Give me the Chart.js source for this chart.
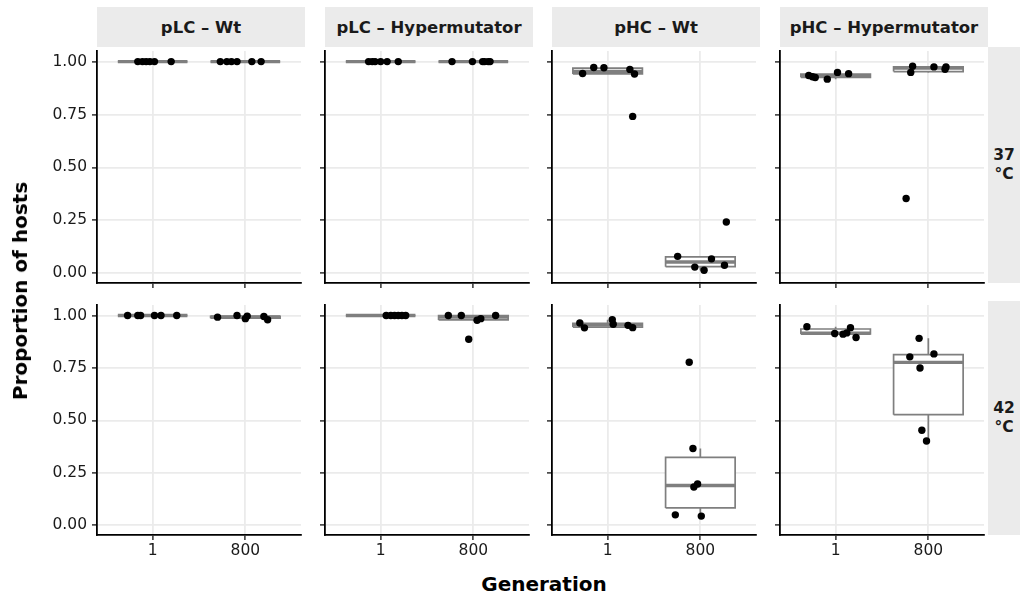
<!DOCTYPE html>
<html>
<head>
<meta charset="utf-8">
<script src="https://cdn.jsdelivr.net/npm/chart.js@4.4.1/dist/chart.umd.min.js"></script>
<style>
  html, body { margin: 0; padding: 0; background: #fff; }
  body { width: 1026px; height: 601px; position: relative; overflow: hidden;
         font-family: 'DejaVu Sans', 'Liberation Sans', Arial, sans-serif; color: #1a1a1a; }
  canvas { position: absolute; }
  .strip { position: absolute; background: #ebebeb; display: flex; align-items: center;
           justify-content: center; font-weight: bold; font-size: 16.5px; color: #1a1a1a; }
  .rstrip { text-align: center; line-height: 19px; font-size: 15.5px; }
  .title { position: absolute; font-weight: bold; font-size: 20px; color: #000; white-space: nowrap; }
</style>
</head>
<body>
<script>
/* facets */
var PANELS = ['pLC \u2013 Wt', 'pLC \u2013 Hypermutator', 'pHC \u2013 Wt', 'pHC \u2013 Hypermutator'];
var TEMPS = ['37', '42'];
var GENERATIONS = ['1', '800'];
var Y_TICKS = [0, 0.25, 0.5, 0.75, 1];

/* proportion of hosts, per panel: [generation 1, generation 800] */
var PROP_37 = [
  [[1, 1, 1, 1, 1, 1], [1, 1, 1, 1, 1, 1]],
  [[1, 1, 1, 1, 1, 1], [1, 1, 1, 1, 1, 1]],
  [[0.944, 0.972, 0.971, 0.963, 0.941, 0.741], [0.080, 0.029, 0.014, 0.068, 0.038, 0.242]],
  [[0.934, 0.928, 0.925, 0.917, 0.949, 0.943], [0.353, 0.949, 0.978, 0.975, 0.964, 0.975]]
];
var PROP_42 = [
  [[1, 1, 1, 1, 1, 1], [0.992, 1.0, 0.985, 0.997, 0.995, 0.980]],
  [[1, 1, 1, 1, 1, 1], [1.0, 1.0, 0.977, 0.985, 1.0, 0.887]],
  [[0.964, 0.941, 0.980, 0.958, 0.953, 0.942], [0.777, 0.366, 0.183, 0.197, 0.050, 0.044]],
  [[0.946, 0.914, 0.911, 0.917, 0.942, 0.895], [0.891, 0.803, 0.817, 0.750, 0.453, 0.402]]
];

/* horizontal jitter of each point (category units) */
var JITTER_37 = [
  [[-0.16, -0.11, -0.07, -0.03, 0.02, 0.20], [-0.27, -0.20, -0.15, -0.09, 0.07, 0.17]],
  [[-0.13, -0.09, -0.06, 0.00, 0.07, 0.19], [-0.23, -0.01, 0.10, 0.12, 0.16, 0.18]],
  [[-0.27, -0.15, -0.04, 0.24, 0.29, 0.27], [-0.245, -0.06, 0.04, 0.12, 0.26, 0.28]],
  [[-0.29, -0.25, -0.22, -0.09, 0.02, 0.14], [-0.24, -0.19, -0.17, 0.06, 0.18, 0.19]]
];
var JITTER_42 = [
  [[-0.27, -0.16, -0.13, 0.02, 0.09, 0.26], [-0.30, -0.09, 0.00, 0.02, 0.20, 0.24]],
  [[0.06, 0.11, 0.15, 0.19, 0.23, 0.27], [-0.27, -0.13, 0.04, 0.08, 0.24, -0.05]],
  [[-0.30, -0.25, 0.05, 0.06, 0.22, 0.27], [-0.12, -0.08, -0.07, -0.03, -0.27, 0.01]],
  [[-0.31, -0.01, 0.08, 0.12, 0.16, 0.22], [-0.10, -0.20, 0.06, -0.09, -0.07, -0.02]]
];

/* layout */
var PANEL_LEFT = [97, 325, 552, 780], PANEL_W = 208;
var ROW_TOP = [47, 301], ROW_H = [236, 234];
var BOX_HALF = 0.375;
var GREY = '#7f7f7f';

Chart.defaults.font.family = "'DejaVu Sans', 'Liberation Sans', Arial, sans-serif";
Chart.defaults.color = '#1a1a1a';

function quantile(sorted, p) {
  var h = (sorted.length - 1) * p, lo = Math.floor(h);
  var next = sorted[lo + 1] !== undefined ? sorted[lo + 1] : sorted[lo];
  return sorted[lo] + (h - lo) * (next - sorted[lo]);
}

function boxStats(vals) {
  var s = vals.slice().sort(function (a, b) { return a - b; });
  var q1 = quantile(s, 0.25), med = quantile(s, 0.5), q3 = quantile(s, 0.75);
  var iqr = q3 - q1;
  var lo = s.filter(function (v) { return v >= q1 - 1.5 * iqr; })[0];
  var hiArr = s.filter(function (v) { return v <= q3 + 1.5 * iqr; });
  return { q1: q1, med: med, q3: q3, lo: lo, hi: hiArr[hiArr.length - 1] };
}

function addText(cls, txt, css) {
  var d = document.createElement('div');
  d.className = cls; d.innerHTML = txt;
  Object.keys(css).forEach(function (k) { d.style[k] = css[k]; });
  document.body.appendChild(d);
  return d;
}

/* keep chart area fixed: no extra padding for overhanging labels */
function noPad(s) { s.paddingTop = 0; s.paddingBottom = 0; s.paddingLeft = 0; s.paddingRight = 0; }

function makePanel(row, col) {
  var props = (row === 0 ? PROP_37 : PROP_42)[col];
  var jit = (row === 0 ? JITTER_37 : JITTER_42)[col];
  var yw = col === 0 ? 97 : 10;
  var xh = row === 1 ? 34 : 10;

  var canvas = document.createElement('canvas');
  canvas.width = PANEL_W + yw; canvas.height = ROW_H[row] + xh;
  canvas.style.left = (PANEL_LEFT[col] - yw) + 'px';
  canvas.style.top = ROW_TOP[row] + 'px';
  document.body.appendChild(canvas);

  var pts = [];
  props.forEach(function (vals, g) {
    vals.forEach(function (v, i) { pts.push({ x: g + 1 + jit[g][i], y: v }); });
  });

  var medians = [], boxes = [], whiskers = [];
  props.forEach(function (vals, g) {
    var st = boxStats(vals), c = g + 1;
    medians.push({ type: 'line', data: [{ x: c - BOX_HALF, y: st.med }, { x: c + BOX_HALF, y: st.med }],
      borderColor: GREY, borderWidth: 3.4, pointRadius: 0, fill: false });
    boxes.push({ type: 'line', data: [
        { x: c - BOX_HALF, y: st.q1 }, { x: c + BOX_HALF, y: st.q1 }, { x: c + BOX_HALF, y: st.q3 },
        { x: c - BOX_HALF, y: st.q3 }, { x: c - BOX_HALF, y: st.q1 }],
      borderColor: GREY, borderWidth: 1.7, backgroundColor: '#fff', pointRadius: 0, fill: 'shape' });
    whiskers.push({ type: 'line', data: [{ x: c, y: st.q3 }, { x: c, y: st.hi }, { x: c, y: null },
        { x: c, y: st.q1 }, { x: c, y: st.lo }],
      borderColor: GREY, borderWidth: 1.7, pointRadius: 0, fill: false, spanGaps: false });
  });

  var datasets = [{ type: 'scatter', data: pts, backgroundColor: '#000', borderWidth: 0, pointRadius: 3.7 }]
    .concat(medians, boxes, whiskers);

  new Chart(canvas, {
    type: 'scatter',
    data: { datasets: datasets },
    options: {
      responsive: false, animation: false, events: [], devicePixelRatio: 1,
      layout: { padding: 0 },
      plugins: { legend: { display: false }, tooltip: { enabled: false } },
      scales: {
        x: {
          type: 'linear', min: 0.4, max: 2.6,
          afterBuildTicks: function (s) { s.ticks = GENERATIONS.map(function (g, i) { return { value: i + 1 }; }); },
          afterFit: function (s) { s.height = xh; noPad(s); },
          ticks: { display: row === 1, autoSkip: false, maxRotation: 0, padding: 2,
                   font: { size: 15.5 }, color: '#1a1a1a',
                   callback: function (v) { return GENERATIONS[v - 1]; } },
          grid: { color: '#ebebeb', lineWidth: 1.8, tickColor: '#222', tickLength: 5, tickWidth: 1.4 },
          border: { display: true, color: '#000', width: 1.8 }
        },
        y: {
          type: 'linear', min: -0.046, max: 1.05,
          afterBuildTicks: function (s) { s.ticks = Y_TICKS.map(function (v) { return { value: v }; }); },
          afterFit: function (s) { s.width = yw; noPad(s); },
          ticks: { display: col === 0, autoSkip: false, padding: 5, font: { size: 15.5 }, color: '#1a1a1a',
                   callback: function (v) { return v.toFixed(2); } },
          grid: { color: '#ebebeb', lineWidth: 1.8, tickColor: '#222', tickLength: 5, tickWidth: 1.4 },
          border: { display: true, color: '#000', width: 1.8 }
        }
      }
    }
  });
}

/* strips */
PANELS.forEach(function (p, c) {
  addText('strip', p, { left: PANEL_LEFT[c] + 'px', top: '7px', width: PANEL_W + 'px', height: '40px' });
});
TEMPS.forEach(function (t, r) {
  addText('strip rstrip', t + '<br>\u00b0C', { left: '988px', top: ROW_TOP[r] + 'px', width: '32px', height: ROW_H[r] + 'px' });
});

for (var r = 0; r < 2; r++) for (var c = 0; c < 4; c++) makePanel(r, c);

/* axis titles */
addText('title', 'Generation', { left: '544px', top: '572px', transform: 'translateX(-50%)' });
addText('title', 'Proportion of hosts', { left: '20px', top: '291px', transform: 'translate(-50%, -50%) rotate(-90deg)' });
</script>
</body>
</html>
